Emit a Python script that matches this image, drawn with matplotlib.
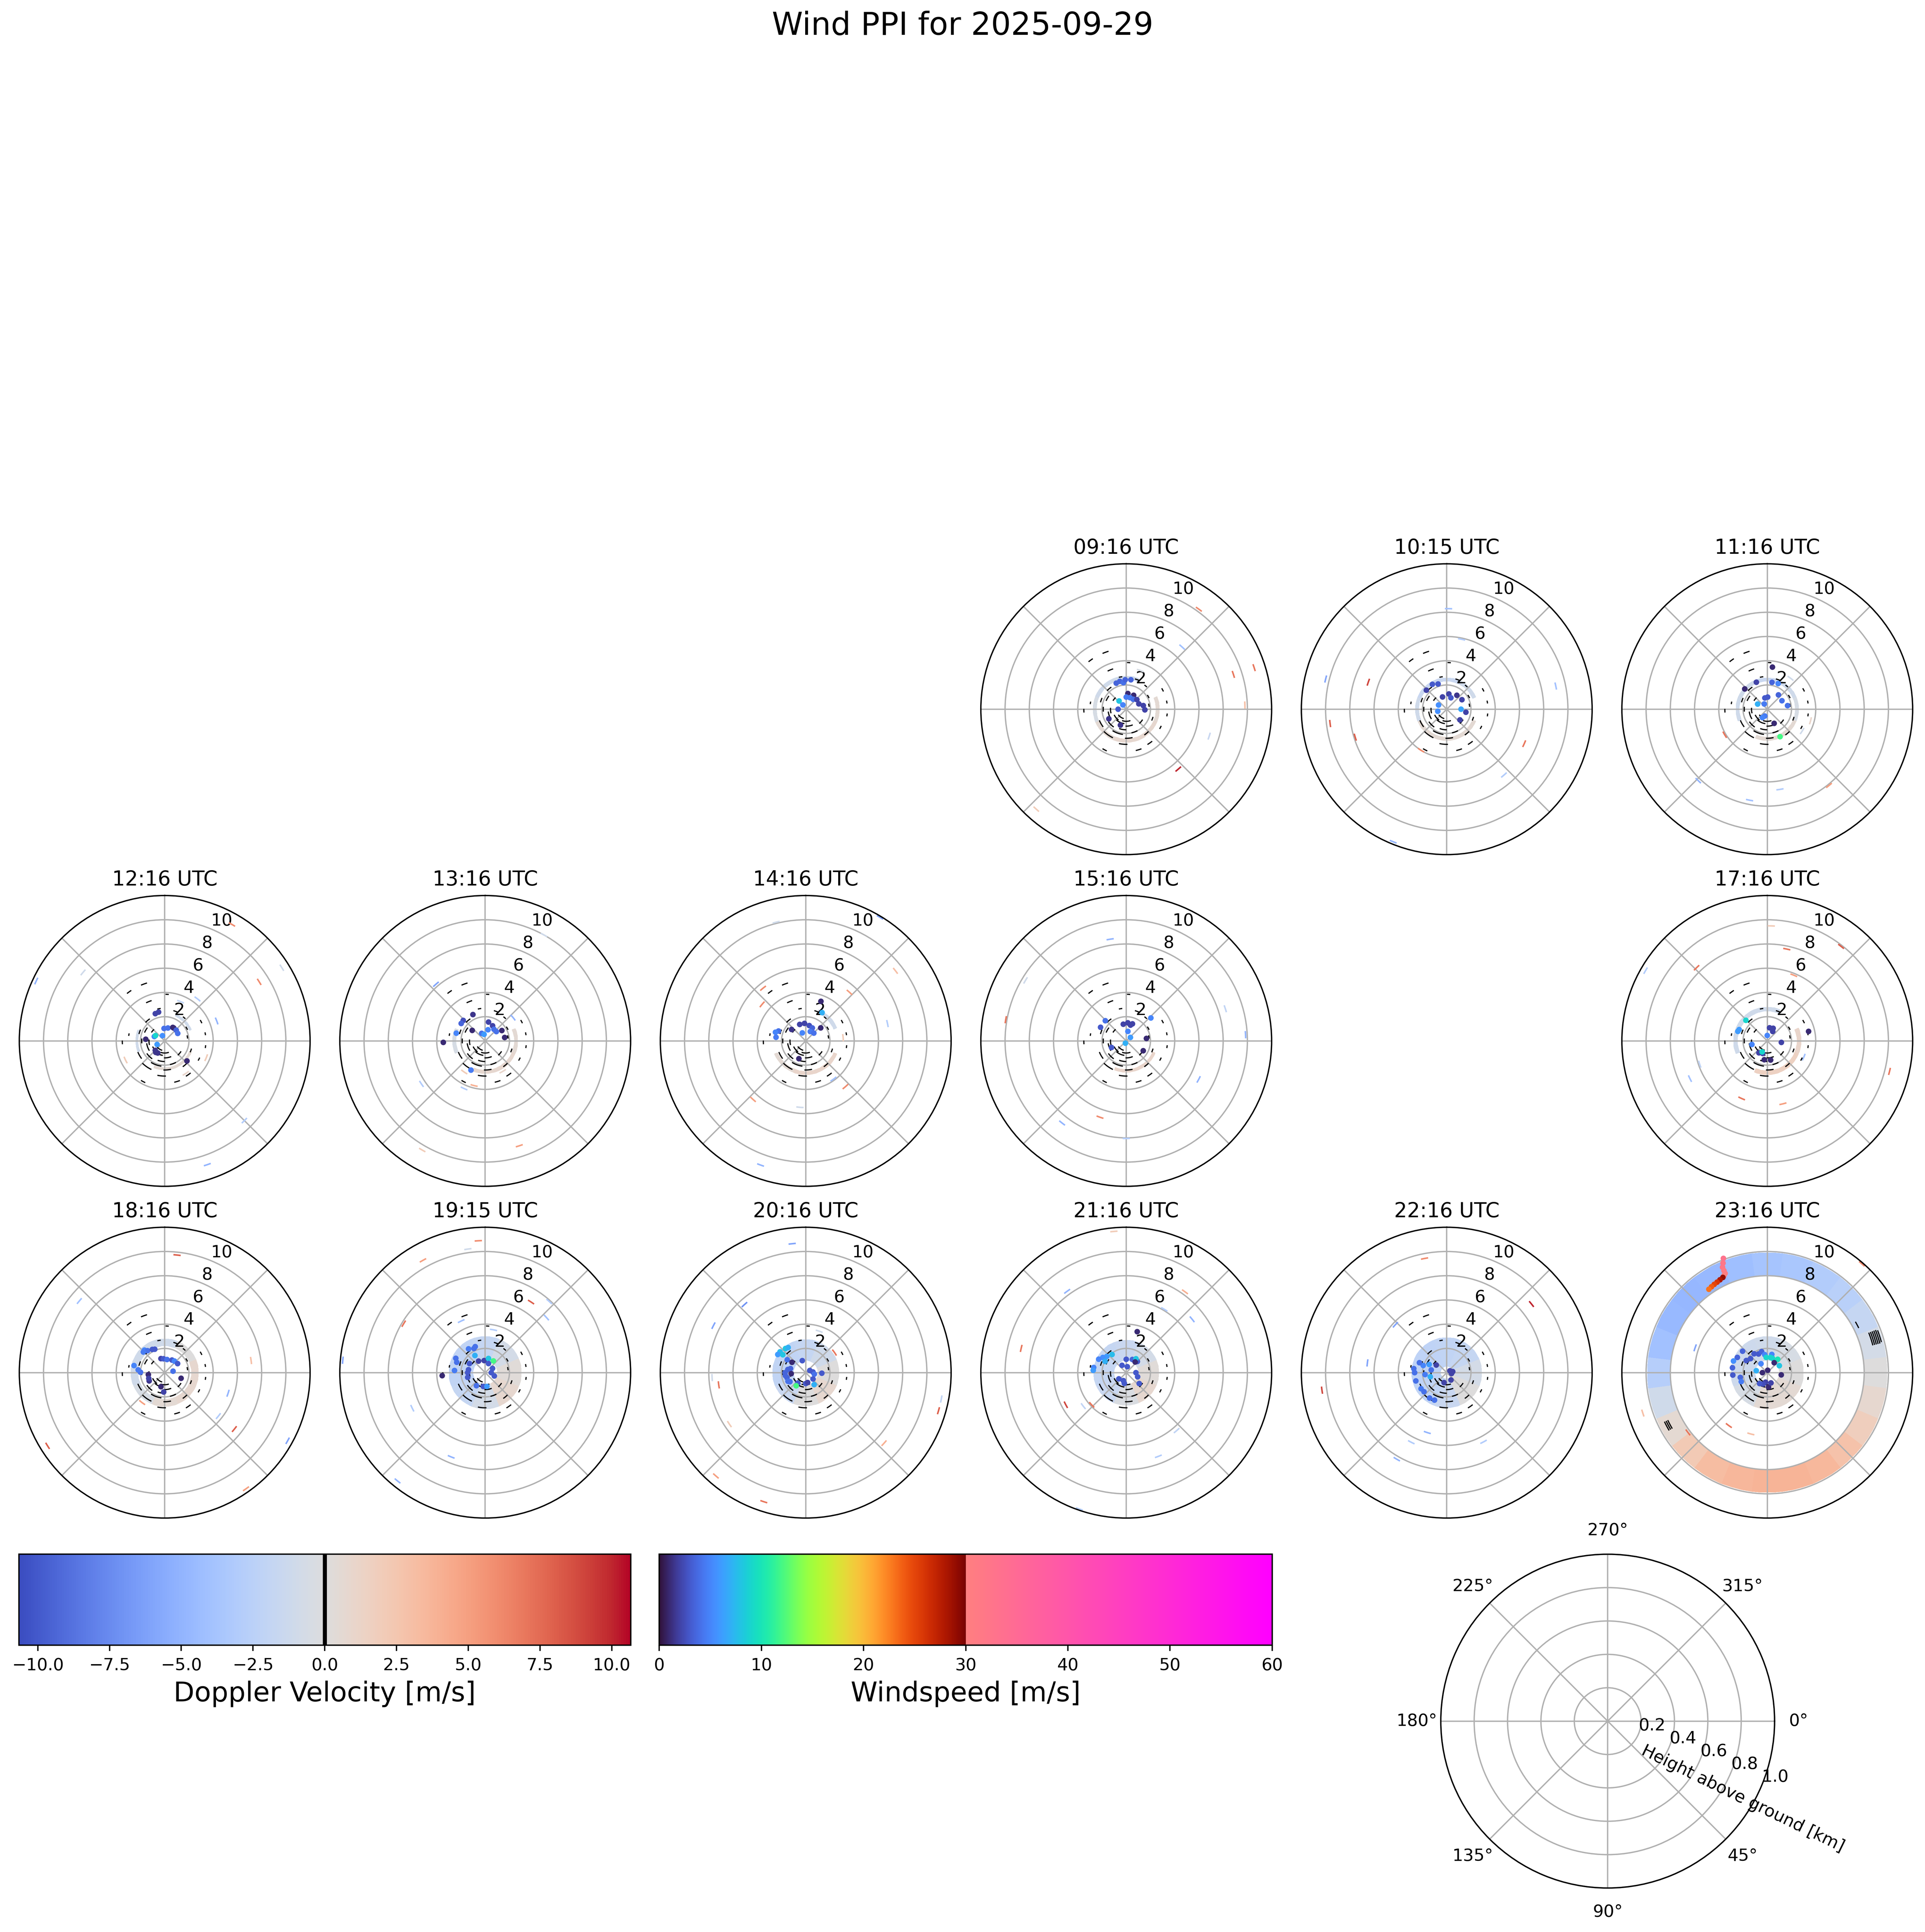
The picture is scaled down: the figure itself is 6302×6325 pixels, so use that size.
# plot.py - hourly wind PPI overview (Doppler velocity + windspeed points)

import numpy as np
import matplotlib
matplotlib.use('Agg')
import matplotlib.pyplot as plt
from matplotlib.colors import Normalize, ListedColormap
from matplotlib.collections import LineCollection
from matplotlib.cm import ScalarMappable

DAY = '2025-09-29'
SCANS = ['09:16', '10:15', '11:16', '12:16', '13:16', '14:16', '15:16',
         '17:16', '18:16', '19:15', '20:16', '21:16', '22:16', '23:16']

# ------------------------------------------------------------------
# data
#   pts_*  : (azimuth deg, range km, windspeed m/s)
#   dop_*  : (azimuth deg, range km, doppler velocity m/s)  short gate arcs
#   ring_* : doppler velocity per equal azimuth sector (nan = no echo)
#   blk_*  : (azimuth deg, range km, width deg)  black clutter gates
# ------------------------------------------------------------------

blk_common = [(340, 5.0, 6), (324, 5.0, 5), (338, 3.5, 8), (3, 3.85, 4), (268, 3.5, 5),
              (280, 3.0, 4), (80, 3.4, 4), (98, 3.4, 4), (145, 3.4, 8), (163, 3.5, 8),
              (208, 3.8, 6), (62, 3.4, 5), (118, 3.2, 5),
              (180, 1.0, 40), (205, 1.2, 35), (170, 1.4, 25), (230, 1.1, 30), (250, 1.5, 25),
              (300, 1.8, 15), (320, 2.2, 12), (290, 2.2, 10), (200, 2.1, 25), (160, 2.0, 15),
              (140, 2.6, 10), (215, 2.6, 20), (110, 2.3, 8), (60, 2.1, 8), (40, 2.5, 6),
              (20, 2.6, 8), (350, 2.7, 6), (270, 1.9, 12), (240, 2.4, 15), (185, 2.9, 14),
              (130, 1.6, 15), (80, 1.9, 8), (190, 1.7, 20), (225, 1.8, 20), (175, 2.4, 15),
              (265, 1.3, 20), (310, 1.3, 15), (215, 0.8, 40)]

pts_0916 = [(339, 2.3, 3.5), (347, 2.36, 3.5), (354, 2.2, 4), (358, 2.43, 3.5), (9, 2.46, 3.5),
            (6, 1.3, 1), (28, 1.3, 1), (0, 1.0, 4.5), (18, 1.0, 4.5), (35, 1.0, 4),
            (48, 1.18, 2), (67, 1.13, 2), (78, 1.44, 2), (92, 1.54, 2), (319, 0.9, 8),
            (322, 0.45, 5), (270, 0.67, 3), (241, 1.64, 1.5), (200, 1.4, 1.5)]
dop_0916 = [(36, 10.2, 6), (42, 6.9, -4), (72, 9.3, 7), (72, 11.1, 7), (88, 9.8, 3),
            (108, 7.2, -1.5), (139, 6.55, 10), (222, 11.1, 2), (20, 3.4, -0.5)]
ring_0916 = [-1, np.nan, 0.5, 0.8, 0.8, 0.5, -0.5, -1]
ringr_0916 = (2.45, 2.75)

pts_1015 = [(313, 2.3, 2), (330, 2.37, 3), (341, 2.2, 3), (8, 1.27, 2), (36, 1.42, 1.5),
            (58, 1.48, 2), (341, 1.07, 2), (20, 1.0, 3), (297, 0.76, 5.5), (257, 0.76, 5.5),
            (90, 1.18, 6.5), (99, 1.6, 2), (129, 1.4, 2)]
dop_1015 = [(1, 8.3, -4), (12, 5.9, -3), (284, 10.3, -6), (289, 6.85, 9), (263, 9.7, 8),
            (253, 7.9, 8), (78, 9.2, -4), (114, 7.0, 7), (212, 4.0, 6), (139, 7.2, -3),
            (202, 11.8, -5)]
ring_1015 = [-1.5, -1, np.nan, 0.5, 0.5, 0.5, -1, -1.5]
ringr_1015 = (2.3, 2.6)

pts_1116 = [(7, 3.5, 1), (338, 2.4, 2), (10, 2.25, 3.5), (23, 2.3, 5), (312, 2.5, 1),
            (2, 1.0, 3), (348, 0.95, 3), (38, 1.5, 3.5), (80, 1.7, 4), (60, 1.4, 4),
            (298, 0.9, 7), (330, 0.5, 4.5), (200, 0.6, 4.5), (210, 0.8, 5), (154, 1.3, 1),
            (155, 2.5, 12)]
dop_1116 = [(105, 3.7, 1), (122, 3.4, -1), (239, 4.1, 7), (224, 8.2, -5), (171, 6.7, -3),
            (191, 7.65, -4), (141, 8.1, 5), (37, 3.2, -1)]
ring_1116 = [-1.5, -1, -0.5, 0.5, 0.5, np.nan, -1, -1]
ringr_1116 = (2.3, 2.6)

pts_1216 = [(341, 2.38, 2), (348, 2.43, 2), (357, 1.03, 4), (14, 1.1, 4), (31, 1.3, 1),
            (35, 1.3, 1), (47, 1.3, 3.5), (60, 1.24, 4), (337, 0.47, 5.5), (293, 0.93, 5),
            (300, 0.88, 9), (275, 1.57, 1), (245, 0.69, 6), (210, 1.15, 1.5), (218, 1.2, 1.5),
            (225, 1.1, 1.5), (132, 2.47, 1)]
dop_1216 = [(30, 11.1, 6), (58, 11.4, -1), (58, 9.2, 6), (295, 11.7, -5), (310, 8.8, -1),
            (38, 4.4, -3), (22, 3.5, -2), (69, 4.6, -5), (112, 3.7, 2), (147, 3.2, 1),
            (135, 9.3, -3), (161, 10.8, -5), (244, 3.6, 2)]
ring_1216 = [np.nan, -1, np.nan, 0.5, 0.5, np.nan, -1, np.nan]
ringr_1216 = (2.2, 2.4)

pts_1316 = [(335, 2.4, 1.5), (313, 2.48, 2.5), (306, 2.45, 3.5), (285, 2.47, 5), (268, 3.46, 1),
            (10, 1.58, 2), (26, 1.39, 2), (37, 1.2, 4), (14, 0.95, 5), (50, 1.2, 4),
            (58, 1.62, 1), (80, 1.63, 1), (309, 1.38, 1), (335, 0.69, 4), (350, 0.55, 6),
            (206, 2.68, 4.5)]
dop_1316 = [(319, 6.2, -6), (29, 10.0, -1), (50, 3.0, -5), (236, 6.35, -3), (204, 4.3, -3),
            (194, 3.8, 4), (214, 3.1, 2), (150, 2.9, 1), (162, 9.1, 5), (210, 10.4, 2)]
ring_1316 = [np.nan, np.nan, 0.5, 0.8, 0.8, np.nan, -0.5, np.nan]
ringr_1316 = (2.4, 2.7)

pts_1416 = [(21, 3.5, 1), (30, 2.7, 7), (340, 1.45, 2), (356, 1.45, 2), (13, 1.3, 2.5),
            (27, 1.2, 3.5), (49, 1.64, 1), (337, 0.72, 5), (26, 0.86, 4.5), (46, 0.93, 4),
            (309, 1.5, 1.5), (290, 2.39, 4), (286, 2.6, 5), (277, 2.47, 4.5), (201, 1.57, 1)]
dop_1416 = [(31, 11.9, -6), (346, 10.1, -1), (52, 9.4, 3), (321, 5.6, 6), (310, 4.7, 6),
            (42, 5.4, 5), (78, 6.9, -3), (85, 3.1, 2), (144, 3.9, -4), (139, 5.0, 6),
            (222, 6.5, 5), (185, 5.5, -1), (200, 10.9, -5)]
ring_1416 = [np.nan, -1, np.nan, 1, 1, 0.5, np.nan, np.nan]
ringr_1416 = (2.5, 2.8)

pts_1516 = [(314, 2.4, 4), (298, 2.4, 3), (350, 1.4, 2), (5, 1.5, 2), (15, 1.35, 2),
            (20, 1.5, 2), (10, 0.8, 5), (50, 0.45, 6), (47, 2.78, 5), (83, 1.68, 1),
            (120, 1.62, 1), (246, 1.33, 3), (200, 0.2, 7)]
dop_1516 = [(351, 8.5, -5), (301, 9.7, -1), (280, 10.1, 7), (72, 8.6, -2), (87, 9.86, -5),
            (118, 6.77, -5), (199, 6.66, 6), (218, 8.6, -5), (180, 8.05, -3)]
ring_1516 = [np.nan, np.nan, np.nan, 1, 1, np.nan, np.nan, np.nan]
ringr_1516 = (2.35, 2.6)

pts_1716 = [(314, 2.45, 9), (288, 2.55, 6), (292, 2.5, 6), (10, 1.1, 2), (25, 1.15, 2),
            (30, 0.9, 2), (77, 3.5, 1), (257, 1.3, 5), (200, 1.1, 2), (215, 1.2, 2),
            (189, 1.57, 1), (170, 1.6, 1), (96, 1.17, 2), (205, 1.0, 9), (0, 0.45, 5)]
dop_1716 = [(2, 9.5, 2), (12, 7.75, 7), (38, 9.9, 8), (316, 8.4, 7), (22, 5.85, 5),
            (300, 11.6, -3), (104, 10.4, 7), (114, 3.3, -4), (251, 5.9, -2), (244, 7.1, -4),
            (166, 5.35, 5), (204, 5.2, 7)]
ring_1716 = [-1, np.nan, 1, 1.5, 1.5, np.nan, -1, -1]
ringr_1716 = (2.45, 2.8)

pts_1816 = [(318, 2.5, 5), (322, 2.3, 4), (314, 2.45, 4.5), (332, 2.17, 3), (337, 2.1, 3),
            (283, 2.6, 5), (271, 2.0, 4), (276, 2.2, 4.5), (345, 1.2, 2), (355, 1.15, 3),
            (10, 1.1, 4), (30, 1.2, 3), (40, 1.25, 5), (55, 1.3, 3), (263, 1.36, 1),
            (242, 1.45, 1.5), (250, 1.4, 2), (109, 1.43, 1), (183, 1.6, 2), (195, 1.2, 1),
            (80, 0.7, 4)]
dop_1816 = [(6, 9.76, 8), (310, 9.2, -4), (82, 7.2, 3), (108, 5.5, -5), (129, 5.7, -3),
            (129, 7.4, 8), (119, 11.6, -6), (145, 11.7, 5), (238, 11.4, 8), (217, 3.1, 5)]
ring_1816 = [-1, 0, 0.8, 0.8, 0.5, -0.5, -1, -1]
ringr_1816 = (2.2, 2.8)

pts_1915 = [(339, 2.3, 4), (335, 2.2, 4), (329, 1.65, 7), (325, 2.4, 4.5), (296, 2.7, 4),
            (290, 2.5, 4), (274, 2.54, 4.5), (266, 3.56, 1), (300, 1.5, 3), (280, 1.4, 3),
            (270, 1.45, 3), (255, 1.5, 3), (330, 1.1, 2), (355, 1.0, 2), (13, 1.2, 8),
            (35, 1.18, 12), (20, 0.8, 3), (60, 0.7, 3), (90, 0.5, 3), (110, 0.8, 3),
            (214, 1.3, 4), (188, 1.15, 3), (173, 1.15, 6)]
dop_1915 = [(357, 10.9, 6), (352, 10.3, -1), (331, 10.6, 5), (33, 6.95, 8), (42, 7.9, -3),
            (48, 6.8, -4), (301, 7.85, 7), (335, 4.7, -4), (275, 11.8, -6), (244, 6.7, -3),
            (202, 7.5, -5), (219, 11.5, -5), (11, 3.6, -3)]
ring_1915 = [-1.8, -0.8, 0.3, 0.8, -0.8, -1.8, -2, -2]
ringr_1915 = (1.0, 3.0)

pts_2016 = [(320, 2.6, 8), (325, 2.53, 7), (309, 2.73, 7.5), (303, 2.75, 6), (308, 2.4, 8),
            (305, 1.86, 4), (307, 1.42, 1), (344, 1.03, 3), (280, 1.5, 3.5), (270, 1.7, 3.5),
            (285, 1.3, 3.5), (262, 1.7, 3.5), (255, 1.6, 3.5), (266, 1.2, 1), (62, 0.38, 3),
            (85, 0.6, 3), (92, 1.33, 3), (100, 0.72, 4), (244, 1.63, 4), (240, 1.5, 4),
            (217, 1.08, 3), (180, 0.9, 3), (169, 0.83, 2), (131, 0.8, 3), (216, 1.34, 12),
            (145, 1.21, 7)]
dop_2016 = [(354, 10.7, -6), (318, 7.56, -7), (297, 8.55, -6), (267, 7.74, -1), (262, 7.25, 7),
            (55, 2.9, 7), (18, 3.6, -1), (101, 11.4, -2), (106, 11.4, 8), (132, 8.7, 4),
            (236, 7.6, 2), (221, 11.3, 5), (198, 11.2, 7)]
ring_2016 = [-1.8, -1, 0, 0.8, 0, -1.5, -2, -2]
ringr_2016 = (1.0, 2.75)

pts_2116 = [(15, 3.5, 1), (322, 1.9, 7.5), (310, 2.09, 6), (303, 2.3, 5.5), (296, 2.53, 5),
            (279, 2.72, 5), (274, 2.73, 6), (298, 1.98, 7), (0, 1.1, 3), (25, 1.2, 3.5),
            (45, 1.3, 3), (35, 1.4, 8), (40, 1.15, 1), (330, 0.7, 3), (10, 0.5, 3),
            (90, 0.8, 3), (110, 1.0, 3), (130, 1.4, 3), (190, 0.9, 3), (200, 0.7, 3),
            (230, 0.8, 3)]
dop_2116 = [(355, 11.7, 2), (324, 8.3, -5), (36, 8.25, 4), (31, 6.1, -3), (51, 7.0, -5),
            (283, 8.9, 7), (242, 5.65, 9), (232, 4.5, -2), (227, 3.9, 7), (139, 6.34, -2),
            (159, 7.4, -3), (199, 11.9, -3)]
ring_2116 = [-1.5, -0.8, 0.3, 0.8, -0.3, -1.5, -1.8, -1.8]
ringr_2116 = (1.0, 2.7)

pts_2216 = [(277, 2.74, 4), (270, 2.65, 4), (287, 2.03, 5), (295, 1.6, 6), (256, 1.4, 7),
            (306, 1.07, 2), (280, 1.3, 4), (265, 1.8, 4.5), (290, 2.4, 4), (255, 2.64, 4),
            (238, 2.5, 4.5), (230, 2.45, 4), (214, 2.53, 4), (204, 2.48, 4), (80, 0.5, 2),
            (100, 0.4, 2), (150, 0.7, 2), (195, 0.85, 2), (60, 0.3, 2)]
dop_2216 = [(349, 9.6, 6), (51, 9.0, 10), (313, 5.8, -6), (277, 6.6, -6), (262, 10.4, 9),
            (198, 5.2, -5), (207, 6.45, -3), (152, 6.47, -3), (210, 8.25, -5)]
ring_2216 = [-2, -1.8, -0.8, 0, -1.5, -2, -2.2, -2.2]
ringr_2216 = (0.5, 2.9)

pts_2316 = [(339, 10.1, 33), (338, 9.75, 32), (337, 9.45, 32), (337, 9.15, 31), (337, 8.9, 31),
            (336, 8.78, 30), (335, 8.67, 29), (333, 8.6, 28), (331, 8.54, 26), (329, 8.5, 25),
            (327, 8.45, 24), (325, 8.4, 23), (311, 2.7, 3.5), (297, 2.77, 3.5), (289, 2.95, 5.5),
            (278, 2.9, 3.5), (266, 2.85, 3), (260, 2.26, 3.5), (251, 2.27, 4.5), (300, 2.0, 3),
            (310, 1.8, 3), (325, 1.9, 3), (335, 1.7, 3), (345, 1.8, 3.5), (352, 1.5, 5),
            (14, 1.55, 5), (356, 1.26, 9), (12, 1.28, 9), (20, 1.26, 9), (38, 1.4, 10),
            (60, 1.15, 8), (35, 1.0, 1), (325, 0.9, 5), (280, 0.92, 7), (270, 0.4, 1),
            (10, 0.2, 1), (99, 1.17, 1), (190, 0.8, 2), (200, 1.0, 2.5), (215, 1.1, 3),
            (175, 1.2, 1), (160, 0.9, 2)]
dop_2316 = [(41, 11.9, 6), (289, 6.3, -6), (252, 10.8, 3), (216, 5.4, 7), (233, 8.2, 7),
            (195, 5.24, 3)]
ring_2316 = [-1, -0.5, 0, 0.5, 0.5, -0.5, -1.2, -1.2]
ringr_2316 = (1.0, 3.0)
outer_2316 = [-3.8, -3.5, -3.0, -2.6, -1.8, -0.8, 0.0, 0.8, 1.8, 2.8, 3.5, 3.8,
              3.8, 3.6, 3.2, 2.2, 0.6, -1.0, -2.8, -4.0, -4.6, -4.8, -4.6, -4.2]
outerr_2316 = (8.0, 9.9)
blk_2316 = [(72, 9.0, 7), (72, 9.15, 7), (72, 9.3, 7), (72, 9.45, 7), (72, 9.6, 7),
            (72, 9.75, 6), (62, 8.4, 4), (242, 9.1, 5), (242, 9.25, 5), (242, 9.4, 5)]

# Nyquist range of the doppler scale, windspeed scale
VNYQ = 10.66
WS_MAX = 60

# lookup table per scan
PANELS = {
    '09:16': (pts_0916, dop_0916, [(ringr_0916, ring_0916)], []),
    '10:15': (pts_1015, dop_1015, [(ringr_1015, ring_1015)], []),
    '11:16': (pts_1116, dop_1116, [(ringr_1116, ring_1116)], []),
    '12:16': (pts_1216, dop_1216, [(ringr_1216, ring_1216)], []),
    '13:16': (pts_1316, dop_1316, [(ringr_1316, ring_1316)], []),
    '14:16': (pts_1416, dop_1416, [(ringr_1416, ring_1416)], []),
    '15:16': (pts_1516, dop_1516, [(ringr_1516, ring_1516)], []),
    '17:16': (pts_1716, dop_1716, [(ringr_1716, ring_1716)], []),
    '18:16': (pts_1816, dop_1816, [(ringr_1816, ring_1816)], []),
    '19:15': (pts_1915, dop_1915, [(ringr_1915, ring_1915)], []),
    '20:16': (pts_2016, dop_2016, [(ringr_2016, ring_2016)], []),
    '21:16': (pts_2116, dop_2116, [(ringr_2116, ring_2116)], []),
    '22:16': (pts_2216, dop_2216, [(ringr_2216, ring_2216)], []),
    '23:16': (pts_2316, dop_2316, [(ringr_2316, ring_2316), (outerr_2316, outer_2316)], blk_2316),
}

# ------------------------------------------------------------------
# colour maps
# ------------------------------------------------------------------
dop_cmap = plt.get_cmap('coolwarm')
dop_norm = Normalize(-VNYQ, VNYQ)
_ws_cols = np.vstack([plt.get_cmap('turbo')(np.linspace(0, 1, 256)),
                      plt.get_cmap('spring')(np.linspace(0.5, 0, 256))])
ws_cmap = ListedColormap(_ws_cols)
ws_norm = Normalize(0, WS_MAX)


def arc(az, r, width_deg, n=8):
    th = np.deg2rad(np.linspace(az - width_deg / 2, az + width_deg / 2, n))
    return np.column_stack([th, np.full(n, r)])


def add_ring(ax, rr, vals):
    vals = np.asarray(vals, float)
    n = len(vals)
    rep = max(1, 72 // n)
    v = np.repeat(vals, rep)
    w = 360 / n
    edges = np.deg2rad(np.linspace(-w / 2, 360 - w / 2, n * rep + 1))
    T, R = np.meshgrid(edges, list(rr))
    ax.pcolormesh(T, R, np.ma.masked_invalid(v[None, :]), cmap=dop_cmap, norm=dop_norm,
                  shading='flat', edgecolors='none', zorder=1)


def draw_panel(ax, title, pts, dop, rings, blk):
    ax.set_theta_zero_location('N')
    ax.set_theta_direction(-1)

    for rr, vals in rings:
        add_ring(ax, rr, vals)

    # short doppler gates (arc length ~0.6 km)
    segs = [arc(a, r, np.rad2deg(0.6 / r)) for a, r, _ in dop]
    lc = LineCollection(segs, cmap=dop_cmap, norm=dop_norm, linewidths=0.9, zorder=2)
    lc.set_array(np.array([v for _, _, v in dop]))
    ax.add_collection(lc)

    # black clutter gates
    bsegs = [arc(a, r, w) for a, r, w in blk_common + blk]
    ax.add_collection(LineCollection(bsegs, colors='k', linewidths=0.7, zorder=2.5))

    p = np.array(pts, float)
    ax.scatter(np.deg2rad(p[:, 0]), p[:, 1], c=p[:, 2], cmap=ws_cmap, norm=ws_norm,
               s=11, linewidths=0, zorder=3)

    ax.set_ylim(0, 12)
    ax.set_rticks([2, 4, 6, 8, 10])
    ax.set_xticks(np.deg2rad(np.arange(0, 360, 45)))
    ax.set_xticklabels([])
    ax.tick_params(axis='y', labelsize=10)
    ax.set_title(f'{title} UTC', fontsize=12)


# ------------------------------------------------------------------
# figure (layout measured on a 7878 x 7907 px canvas, saved a bit smaller)
# ------------------------------------------------------------------
W, H = 7878, 7907
FIG_W, FIG_H = W / 500, H / 500
fig = plt.figure(figsize=(FIG_W, FIG_H))

RAD = 595                   # panel radius in px
COL0, DCOL = 674, 1311.6    # column centres
ROW0, DROW = 2903, 1357.5   # row centres (hours 06-11, 12-17, 18-23)

for scan in SCANS:
    hour = int(scan[:2])
    row, col = hour // 6 - 1, hour % 6
    cx = COL0 + col * DCOL
    cy = ROW0 + row * DROW
    ax = fig.add_axes([(cx - RAD) / W, (H - cy - RAD) / H, 2 * RAD / W, 2 * RAD / H],
                      projection='polar')
    pts, dop, rings, blk = PANELS[scan]
    draw_panel(ax, scan, pts, dop, rings, blk)

fig.text(0.5, 1 - 106 / H, f'Wind PPI for {DAY}', ha='center', va='center', fontsize=18.5)

# colour bars
cax1 = fig.add_axes([77 / W, (H - 6733) / H, 2504 / W, 372 / H])
cb1 = fig.colorbar(ScalarMappable(norm=dop_norm, cmap=dop_cmap), cax=cax1,
                   orientation='horizontal')
cb1.set_label('Doppler Velocity [m/s]', fontsize=16)
cb1.ax.axvline(0, color='k', lw=2.4)
cb1.ax.tick_params(labelsize=10)

cax2 = fig.add_axes([2698 / W, (H - 6733) / H, 2508 / W, 372 / H])
cb2 = fig.colorbar(ScalarMappable(norm=ws_norm, cmap=ws_cmap), cax=cax2,
                   orientation='horizontal')
cb2.set_label('Windspeed [m/s]', fontsize=16)
cb2.ax.tick_params(labelsize=10)

# key for the polar axes
LR = 683
lax = fig.add_axes([(6579 - LR) / W, (H - 7044 - LR) / H, 2 * LR / W, 2 * LR / H],
                   projection='polar')
lax.set_theta_direction(-1)
lax.set_ylim(0, 1)
lax.tick_params(labelsize=10)
lax.text(0.905, 0.268, 'Height above ground [km]', transform=lax.transAxes,
         rotation=-26, ha='center', va='center', fontsize=10)

# the full 500 dpi canvas is too large for the viewer, 400 dpi keeps it < 40 Mpx
fig.savefig('out.png', dpi=400)
